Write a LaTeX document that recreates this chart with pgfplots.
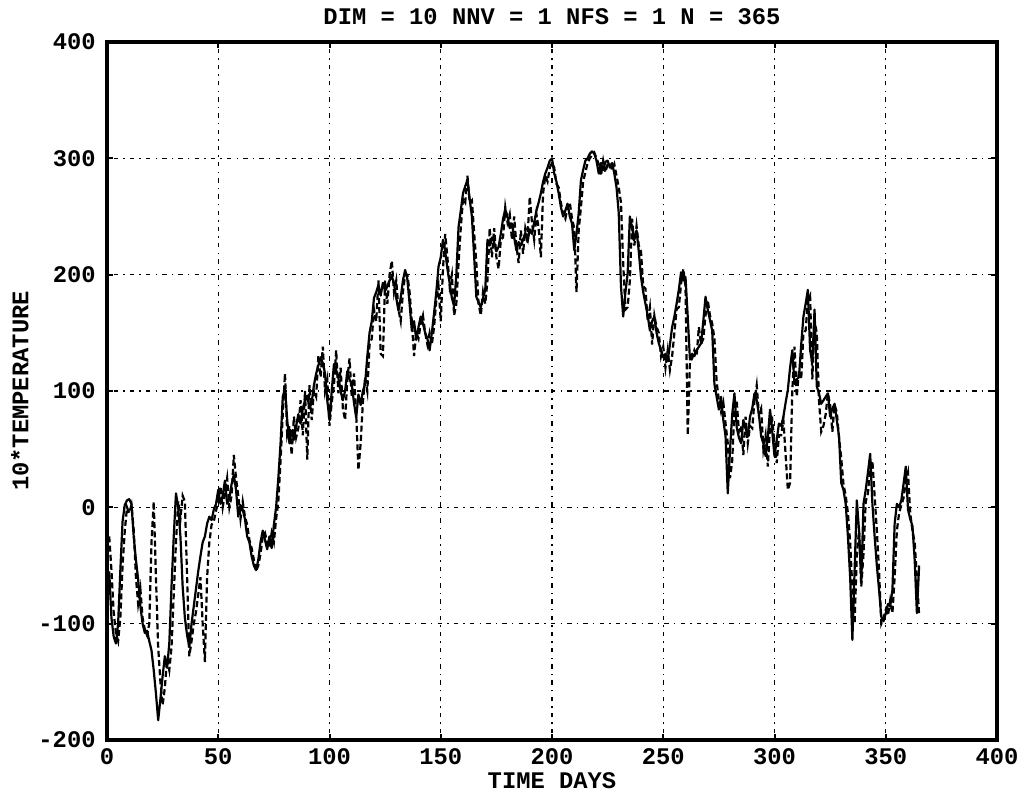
\documentclass[border=0pt]{standalone}
\usepackage{fontspec}
\setmainfont{Liberation Mono}
\usepackage{pgfplots}
\usepackage{pgfplotstable}
\pgfplotsset{compat=1.18}
\pgfplotstableread{
day s d
1 -55 -25
2 -95 -54
3 -111 -90
4 -117 -108
5 -100 -115
6 -54 -95
7 -12 -50
8 2 -20
9 6 0
10 7 -5
11 3 2
12 -25 -19
13 -45 -60
14 -62 -83
15 -85 -70
16 -100 -95
17 -108 -105
18 -106 -110
19 -115 -100
20 -123 -30
21 -140 5
22 -160 -60
23 -183 -120
24 -165 -150
25 -145 -170
26 -128 -155
27 -138 -130
28 -117 -140
29 -68 -120
30 -25 -75
31 12 -30
32 0 5
33 -25 -10
34 -68 10
35 -95 5
36 -110 -60
37 -120 -128
38 -100 -115
39 -85 -100
40 -70 -90
41 -55 -75
42 -42 -60
43 -30 -100
44 -25 -133
45 -14 -60
46 -8 -30
47 -11 -15
48 -2 -12
49 3 -3
50 15 5
51 3 18
52 10 0
53 23 12
54 3 25
55 8 0
56 20 10
57 28 45
58 15 25
59 -8 10
60 2 -10
61 -2 5
62 -10 -8
63 -25 -15
64 -30 -28
65 -42 -35
66 -50 -45
67 -54 -55
68 -45 -50
69 -30 -40
70 -20 -25
71 -28 -22
72 -36 -30
73 -25 -35
74 -35 -22
75 -15 -30
76 0 -10
77 25 5
78 55 40
79 95 80
80 102 115
81 75 62
82 55 70
83 66 45
84 58 78
85 70 60
86 80 68
87 72 92
88 85 62
89 92 100
90 96 41
91 85 105
92 90 75
93 105 100
94 115 95
95 122 130
96 129 112
97 124 138
98 115 100
99 92 110
100 75 70
101 100 90
102 123 105
103 118 135
104 111 98
105 100 120
106 92 85
107 100 75
108 117 110
109 110 128
110 106 95
111 90 115
112 77 80
113 97 32
114 88 55
115 100 90
116 106 112
117 130 100
118 150 140
119 160 145
120 180 170
121 185 160
122 191 195
123 182 132
124 193 130
125 186 195
126 190 175
127 195 200
128 199 212
129 192 185
130 180 195
131 169 170
132 180 160
133 195 185
134 204 200
135 196 200
136 175 185
137 152 160
138 160 130
139 144 150
140 155 145
141 164 158
142 158 165
143 150 150
144 145 140
145 135 150
146 150 140
147 167 155
148 185 178
149 207 190
150 215 160
151 230 205
152 220 235
153 205 215
154 193 190
155 180 200
156 173 165
157 200 175
158 241 210
159 255 240
160 270 265
161 276 262
162 281 285
163 265 262
164 250 264
165 216 236
166 181 210
167 176 175
168 172 165
169 180 185
170 187 175
171 230 195
172 225 240
173 232 215
174 228 240
175 220 215
176 224 205
177 235 230
178 248 232
179 256 258
180 250 245
181 240 252
182 244 230
183 232 250
184 221 225
185 228 210
186 225 238
187 230 218
188 236 240
189 228 232
190 239 267
191 235 245
192 245 230
193 255 252
194 262 240
195 270 215
196 280 270
197 287 285
198 292 280
199 298 292
200 300 296
201 287 292
202 280 278
203 270 275
204 258 262
205 250 252
206 255 248
207 261 258
208 250 262
209 244 248
210 221 240
211 235 185
212 253 238
213 281 258
214 290 280
215 298 288
216 300 296
217 304 300
218 306 303
219 304 305
220 298 300
221 287 295
222 296 285
223 290 298
224 297 288
225 298 295
226 292 296
227 296 290
228 287 295
229 275 285
230 253 275
231 190 262
232 164 210
233 185 170
234 201 172
235 250 195
236 240 248
237 230 225
238 238 242
239 220 225
240 198 220
241 185 190
242 175 188
243 165 160
244 152 172
245 160 140
246 164 165
247 150 155
248 141 150
249 135 130
250 129 138
251 132 120
252 126 135
253 140 118
254 155 130
255 164 150
256 175 170
257 187 172
258 202 192
259 195 205
260 198 190
261 164 62
262 127 125
263 132 128
264 130 135
265 135 130
266 138 155
267 141 140
268 160 145
269 181 165
270 170 178
271 161 165
272 152 158
273 106 145
274 95 108
275 84 92
276 95 82
277 75 90
278 61 72
279 12 55
280 49 25
281 80 40
282 98 85
283 69 92
284 60 65
285 55 70
286 75 45
287 68 78
288 61 55
289 78 70
290 85 68
291 98 92
292 92 105
293 80 80
294 61 85
295 55 50
296 44 62
297 60 35
298 84 70
299 65 75
300 44 55
301 58 38
302 72 62
303 70 62
304 78 75
305 90 45
306 101 15
307 120 21
308 135 100
309 106 138
310 110 95
311 112 118
312 140 110
313 164 150
314 175 152
315 187 178
316 135 182
317 124 110
318 170 160
319 104 150
320 98 92
321 89 65
322 92 70
323 95 80
324 98 98
325 78 88
326 85 65
327 89 88
328 75 82
329 61 60
330 21 42
331 15 20
332 3 10
333 -25 -5
334 -60 -30
335 -114 -70
336 -54 -100
337 6 -40
338 -20 -20
339 -65 -68
340 3 -40
341 15 5
342 30 12
343 46 35
344 3 40
345 -25 10
346 -50 -20
347 -71 -55
348 -94 -100
349 -98 -95
350 -91 -88
351 -83 -93
352 -85 -80
353 -71 -91
354 -14 -60
355 3 -20
356 0 -5
357 6 2
358 20 8
359 35 22
360 -2 30
361 -10 -5
362 -16 -20
363 -45 -30
364 -91 -60
365 -50 -93
}\datatable
\begin{document}
\begin{tikzpicture}[x=1pt,y=1pt]
\path[use as bounding box] (-53.5,-29) rectangle (457.5,370);
\begin{axis}[
  at={(0,0)}, anchor=south west,
  scale only axis, width=445pt, height=349pt,
  xmin=0, xmax=400, ymin=-200, ymax=400,
  xtick={0,50,...,400}, ytick={-200,-100,...,400},
  tick align=inside, major tick length=3pt,
  every tick/.style={black, line width=1pt},
  axis line style={line width=2pt, black},
  grid=major,
  major grid style={black, line width=0.7pt, dash pattern=on 0.7pt off 2.6pt on 2.2pt off 2.6pt},
  font=\fontsize{11.9}{14}\selectfont\bfseries,
  /pgf/number format/assume math mode=true,
  xticklabel style={anchor=north, inner sep=0pt, yshift=-4pt},
  yticklabel style={anchor=east, inner sep=0pt, xshift=-5.5pt},
  title={DIM = 10 NNV = 1 NFS = 1 N = 365},
  title style={at={(0.5,1)}, anchor=base, inner sep=0pt, yshift=2.5pt},
  xlabel={TIME DAYS},
  xlabel style={at={(0.5,0)}, anchor=center, yshift=-20.5pt, inner sep=0pt},
  ylabel={10*TEMPERATURE},
  ylabel style={at={(0,0.5)}, anchor=center, yshift=43.5pt, inner sep=0pt},
  clip=true,
]
\addplot[black, line width=1.1pt, line join=round] table[x=day, y=s] {\datatable};
\addplot[black, line width=1.1pt, dash pattern=on 3pt off 1.6pt] table[x=day, y=d] {\datatable};
\end{axis}
\end{tikzpicture}
\end{document}
